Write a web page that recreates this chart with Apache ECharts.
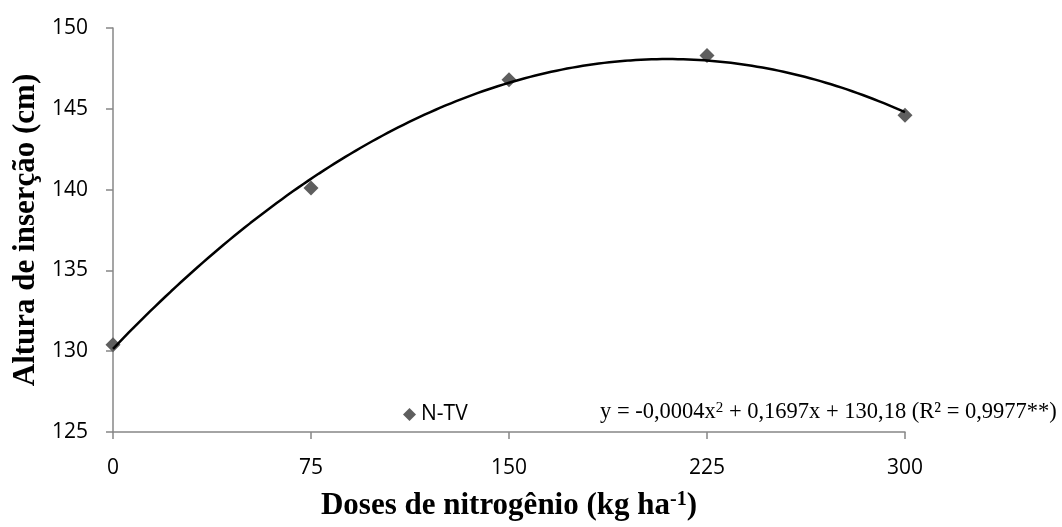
<!DOCTYPE html>
<html>
<head>
<meta charset="utf-8">
<script src="https://cdn.jsdelivr.net/npm/echarts@6/dist/echarts.min.js"></script>
<style>
  html, body { margin: 0; padding: 0; background: #fff; }
  #chart { width: 1062px; height: 527px; }
</style>
</head>
<body>
<div id="chart"></div>
<script>
// Nitrogen doses (kg/ha) and insertion height (cm)
const doses = [0, 75, 150, 225, 300];
const heights = [130.4, 140.1, 146.8, 148.3, 144.6];
const xTicks = [0, 75, 150, 225, 300];
const yTicks = [125, 130, 135, 140, 145, 150];
const seriesName = 'N-TV';

// Least-squares quadratic fit of the observed points
function quadFit(xs, ys) {
  let s = [0, 0, 0, 0, 0], t = [0, 0, 0];
  for (let i = 0; i < xs.length; i++) {
    let p = 1;
    for (let k = 0; k < 5; k++) { s[k] += p; if (k < 3) t[k] += p * ys[i]; p *= xs[i]; }
  }
  const M = [[s[0], s[1], s[2], t[0]], [s[1], s[2], s[3], t[1]], [s[2], s[3], s[4], t[2]]];
  for (let c = 0; c < 3; c++) {
    for (let r = c + 1; r < 3; r++) {
      const f = M[r][c] / M[c][c];
      for (let k = c; k < 4; k++) M[r][k] -= f * M[c][k];
    }
  }
  const coef = [0, 0, 0];
  for (let r = 2; r >= 0; r--) {
    let v = M[r][3];
    for (let k = r + 1; k < 3; k++) v -= M[r][k] * coef[k];
    coef[r] = v / M[r][r];
  }
  return coef; // [a0, a1, a2]
}
const fit = quadFit(doses, heights);
const trend = [];
for (let x = doses[0]; x <= doses[doses.length - 1]; x += 2) {
  trend.push([x, fit[0] + fit[1] * x + fit[2] * x * x]);
}

const axisGray = '#878787';
const serif = 'Liberation Serif';
const sans = 'Open Sans';
const titleStyle = {
  fontFamily: serif, fontWeight: 'bold', fontSize: 31, color: '#000',
  rich: {
    sup: { fontFamily: serif, fontWeight: 'bold', fontSize: 20, verticalAlign: 'top', color: '#000' }
  }
};

const chart = echarts.init(document.getElementById('chart'));
chart.setOption({
  animation: false,
  backgroundColor: '#fff',
  grid: { left: 113, right: 157, top: 28, bottom: 95, containLabel: false, outerBoundsMode: 'none' },
  legend: {
    data: [{ name: seriesName, icon: 'diamond' }],
    left: 398, top: 399,
    itemWidth: 13, itemHeight: 13, itemGap: 6,
    itemStyle: { opacity: 1 },
    textStyle: { fontFamily: sans, fontSize: 21, color: '#000' }
  },
  xAxis: {
    type: 'value', min: xTicks[0], max: xTicks[xTicks.length - 1], interval: 75,
    name: 'Doses de nitrogênio (kg ha{sup|-1})', nameLocation: 'middle', nameGap: 58,
    nameTextStyle: titleStyle,
    axisLine: { show: true, lineStyle: { color: axisGray, width: 1.5 } },
    axisTick: { show: true, length: 7, inside: false, lineStyle: { color: axisGray, width: 1.5 } },
    axisLabel: { margin: 26, fontFamily: sans, fontSize: 21, color: '#000' },
    splitLine: { show: false }
  },
  yAxis: {
    type: 'value', min: yTicks[0], max: yTicks[yTicks.length - 1], interval: 5,
    name: 'Altura de inserção (cm)', nameLocation: 'middle', nameGap: 71,
    nameTextStyle: titleStyle,
    axisLine: { show: true, lineStyle: { color: axisGray, width: 1.5 } },
    axisTick: { show: true, length: 7, inside: false, lineStyle: { color: axisGray, width: 1.5 } },
    axisLabel: { margin: 25, fontFamily: sans, fontSize: 21, color: '#000' },
    splitLine: { show: false }
  },
  series: [
    {
      name: seriesName, type: 'scatter', symbol: 'diamond', symbolSize: 15,
      itemStyle: { color: '#5e5e5e', opacity: 1 },
      data: doses.map((d, i) => [d, heights[i]]), z: 2
    },
    {
      name: 'trend', type: 'line', showSymbol: false, smooth: false,
      lineStyle: { color: '#000', width: 2.5 },
      data: trend, z: 3
    }
  ],
  graphic: [{
    type: 'text', left: 600, top: 401,
    style: {
      text: 'y = -0,0004x{sup|2} + 0,1697x + 130,18 (R² = 0,9977**)',
      fontFamily: serif, fontSize: 22.5, fill: '#000',
      rich: { sup: { fontFamily: serif, fontSize: 15, verticalAlign: 'top', fill: '#000' } }
    }
  }]
});
</script>
</body>
</html>
